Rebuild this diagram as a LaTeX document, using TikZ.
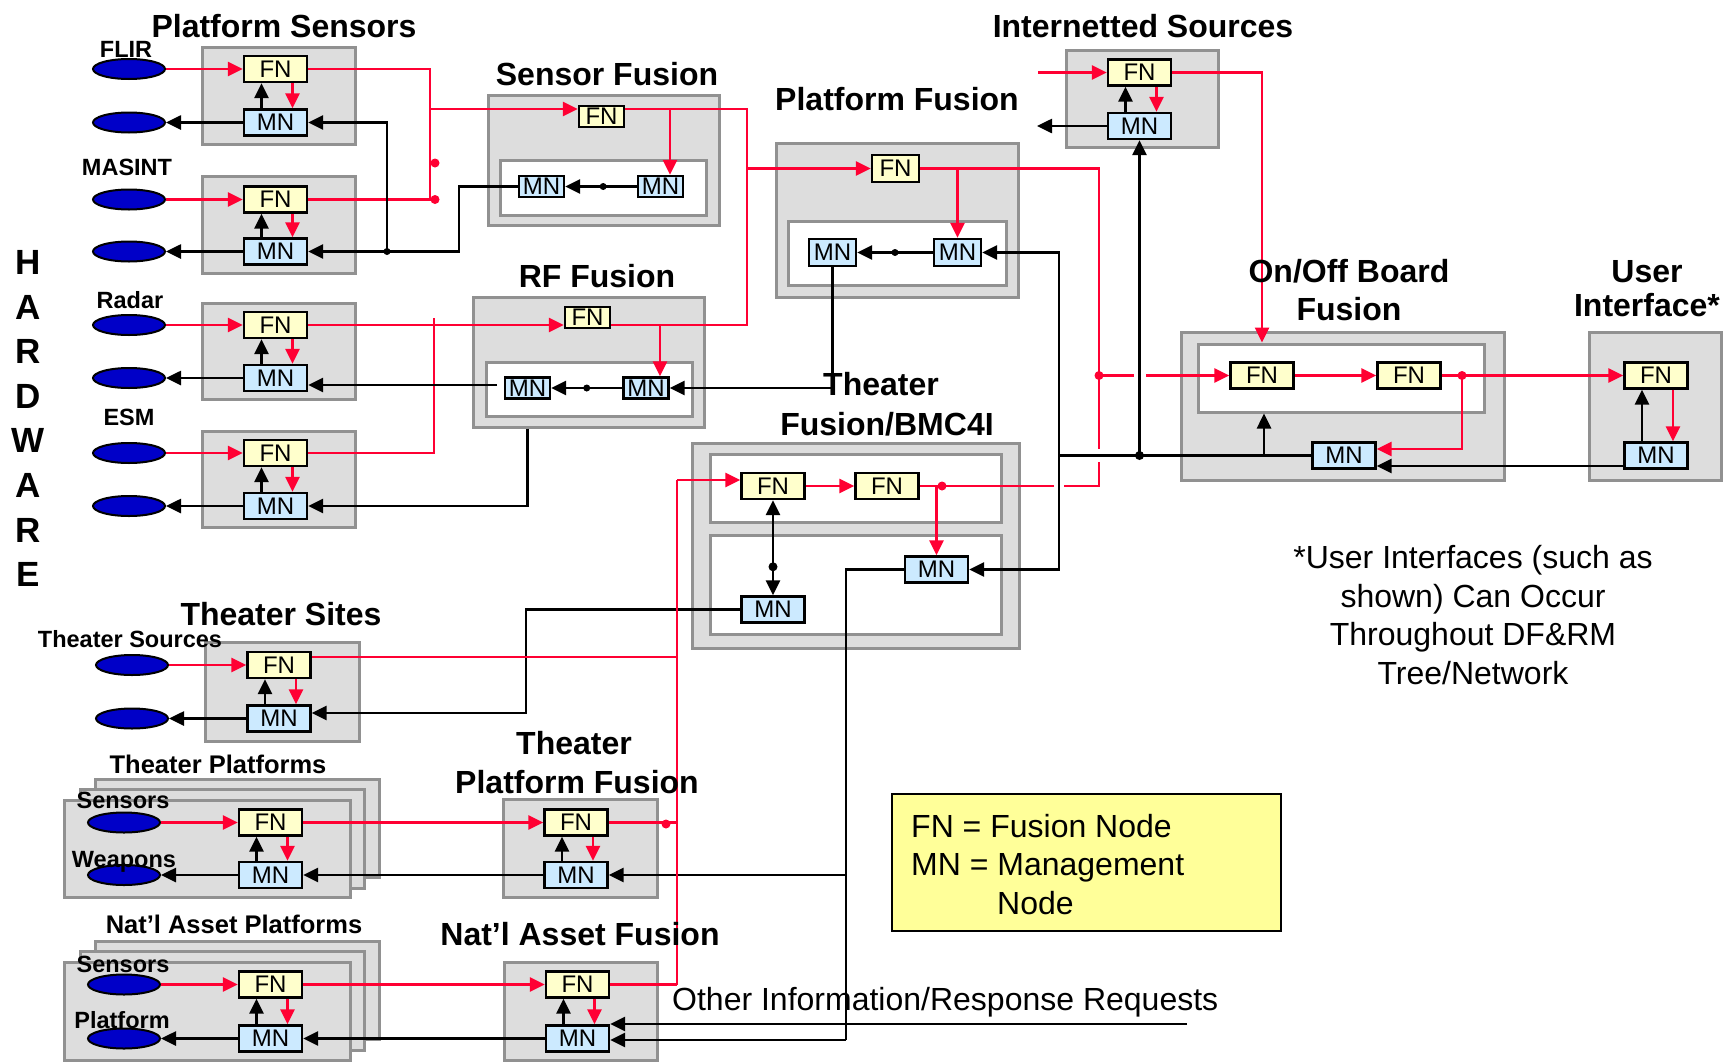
\documentclass[tikz,border=0pt]{standalone}
\usepackage{fontspec}
\setmainfont{Liberation Sans}
\usetikzlibrary{arrows.meta,shapes.geometric,calc}

\definecolor{myred}{RGB}{255,0,51}
\definecolor{grayfill}{RGB}{221,221,221}
\definecolor{grayline}{RGB}{145,145,145}
\definecolor{fnfill}{RGB}{255,255,204}
\definecolor{mnfill}{RGB}{204,234,255}
\definecolor{srcblue}{RGB}{0,0,200}
\definecolor{legfill}{RGB}{255,255,153}

\newcommand\dgnode{\fontsize{24}{24}\selectfont}
\newcommand\dgtitle{\fontsize{32}{38}\selectfont\bfseries}
\newcommand\dglabel{\fontsize{23.5}{28}\selectfont\bfseries}
\newcommand\dgsub{\fontsize{25.5}{30}\selectfont\bfseries}
\newcommand\dgtext{\fontsize{32}{38}\selectfont}
\newcommand\dghw{\fontsize{35}{40}\selectfont\bfseries}

% grey group box given by its corners
\newcommand\dgbox[5]{\node[grp, minimum width={#4-#2}, minimum height={#5-#3}] (#1) at ({(#2+#4)/2},{(#3+#5)/2}) {};}
% white inner box given by its corners
\newcommand\dgibox[5]{\node[inr, minimum width={#4-#2}, minimum height={#5-#3}] (#1) at ({(#2+#4)/2},{(#3+#5)/2}) {};}
% fusion node above management node, with their two internal links
\newcommand\dgunit[4]{%
  \node[fn] (#1-f) at (#2,#3) {FN};
  \node[mn] (#1-m) at (#2,#4) {MN};
  \draw[ba] ($(#1-m.north)+(-14,0)$) -- ($(#1-f.south)+(-14,0)$);
  \draw[ra] ($(#1-f.south)+(17,0)$) -- ($(#1-m.north)+(17,0)$);
}

\begin{document}
\begin{tikzpicture}[x=1pt,y=-1pt,
  grp/.style={rectangle, draw=grayline, fill=grayfill, line width=3pt, inner sep=0pt},
  inr/.style={rectangle, draw=grayline, fill=white, line width=3pt, inner sep=0pt},
  fn/.style={rectangle, draw=black, fill=fnfill, line width=2.4pt, inner sep=0pt, minimum width=63pt, minimum height=26pt, font=\dgnode},
  mn/.style={fn, fill=mnfill},
  fns/.style={fn, minimum width=45pt, minimum height=21pt},
  mns/.style={mn, minimum width=45pt, minimum height=21pt},
  fnm/.style={fn, minimum width=47pt, minimum height=27pt},
  mnm/.style={mn, minimum width=47pt, minimum height=27pt},
  src/.style={ellipse, draw=black, fill=srcblue, line width=2pt, minimum width=72pt, minimum height=20pt, inner sep=0pt},
  rl/.style={draw=myred, line width=2.6pt},
  ra/.style={rl, -{Triangle[length=15pt,width=14pt]}},
  bl/.style={draw=black, line width=2.6pt},
  ba/.style={bl, -{Triangle[length=15pt,width=14pt]}},
  bab/.style={bl, {Triangle[length=15pt,width=14pt]}-{Triangle[length=15pt,width=14pt]}},
  ttl/.style={font=\dgtitle, anchor=base, inner sep=0pt},
  lbl/.style={font=\dglabel, anchor=base, inner sep=0pt},
  sub/.style={font=\dgsub, anchor=base, inner sep=0pt},
  txt/.style={font=\dgtext, anchor=base, inner sep=0pt},
  hw/.style={font=\dghw, anchor=base, inner sep=0pt},
  rdot/.style={fill=myred},
  bdot/.style={fill=black}
]
\useasboundingbox (0,0) rectangle (1724,1063);
\fill[white] (0,0) rectangle (1724,1063);

% ---------- group boxes ----------
\dgbox{psb1}{202}{47}{355}{144}
\dgbox{psb2}{202}{176}{355}{273}
\dgbox{psb3}{202}{303}{355}{399}
\dgbox{psb4}{202}{431}{355}{527}
\dgbox{sfb}{488}{95}{719}{225}
\dgbox{rfb}{473}{297}{704}{427}
\dgbox{pfb}{776}{143}{1018}{297}
\dgbox{isb}{1066}{50}{1218}{147}
\dgbox{thb}{692}{443}{1019}{648}
\dgbox{onb}{1181}{332}{1504}{480}
\dgbox{uib}{1589}{332}{1721}{480}
\dgbox{tsb}{205}{642}{359}{741}
\dgbox{tpb3}{95}{779}{379}{877}
\dgbox{tpb2}{80}{789}{364}{888}
\dgbox{tpb1}{64}{800}{350}{897}
\dgbox{npb3}{95}{941}{379}{1039}
\dgbox{npb2}{80}{951}{364}{1050}
\dgbox{npb1}{64}{962}{350}{1060}
\dgbox{tpfb}{503}{799}{657}{897}
\dgbox{nafb}{504}{962}{657}{1060}

% ---------- inner boxes ----------
\dgibox{sfi}{500}{160}{706}{215}
\dgibox{rfi}{486}{362}{692}{416}
\dgibox{pfi}{788}{221}{1006}{285}
\dgibox{tht}{710}{454}{1001}{522}
\dgibox{thl}{710}{535}{1001}{634}
\dgibox{oni}{1198}{344}{1484}{412}

% ---------- FN / MN units ----------
\dgunit{ps1}{275.5}{69}{122.5}
\dgunit{ps2}{275.5}{199.5}{251.5}
\dgunit{ps3}{275.5}{325}{378}
\dgunit{ps4}{275.5}{453}{506}
\dgunit{is}{1139.5}{72.5}{126}
\dgunit{ui}{1656}{375.5}{455.5}
\dgunit{ts}{279}{665}{718.5}
\dgunit{tp}{270.5}{822.5}{875}
\dgunit{np}{270.5}{984.5}{1038.5}
\dgunit{tpf}{576}{822.5}{875}
\dgunit{naf}{577.5}{984.5}{1038.5}

\node[fns] (sf-f)  at (601.5,116.5) {FN};
\node[mns] (sf-ml) at (541.5,186.5) {MN};
\node[mns] (sf-mr) at (660.5,186.5) {MN};
\node[fns] (rf-f)  at (587.5,317.5) {FN};
\node[mns] (rf-ml) at (527.5,388) {MN};
\node[mns] (rf-mr) at (646,388) {MN};
\node[fnm] (pf-f)  at (895.5,168.5) {FN};
\node[mnm] (pf-ml) at (832.5,252.5) {MN};
\node[mnm] (pf-mr) at (957.5,252.5) {MN};
\node[fn] (th-f1) at (773,486) {FN};
\node[fn] (th-f2) at (887,486) {FN};
\node[mn] (th-m1) at (773,609.5) {MN};
\node[mn] (th-m2) at (936.5,569.5) {MN};
\node[fn] (on-f1) at (1262,375.5) {FN};
\node[fn] (on-f2) at (1409,375.5) {FN};
\node[mn] (on-m)  at (1344,455.5) {MN};

% ---------- sources ----------
\node[src] (e1) at (129,69) {};
\node[src] (e2) at (129,122.5) {};
\node[src] (e3) at (129,199.5) {};
\node[src] (e4) at (129,251.5) {};
\node[src] (e5) at (129,325) {};
\node[src] (e6) at (129,378) {};
\node[src] (e7) at (129,453) {};
\node[src] (e8) at (129,506) {};
\node[src] (t1) at (132,665) {};
\node[src] (t2) at (132,718.5) {};
\node[src] (p1) at (124,822.5) {};
\node[src] (p2) at (124,875) {};
\node[src] (n1) at (124,984.5) {};
\node[src] (n2) at (124,1038.5) {};

% source links
\foreach \s/\u in {e1/ps1,e3/ps2,e5/ps3,e7/ps4,t1/ts,p1/tp,n1/np}
  \draw[ra] (\s.east) -- (\u-f.west);
\foreach \s/\u in {e2/ps1,e4/ps2,e6/ps3,e8/ps4,t2/ts,p2/tp,n2/np}
  \draw[ba] (\u-m.west) -- (\s.east);

% ---------- junction points ----------
\coordinate (psj) at (430,199.5);
\coordinate (psb) at (430,109);
\coordinate (esmt) at (434,318);
\coordinate (rfbus) at (747,325);
\coordinate (k459) at (459,251.5);
\coordinate (k387) at (387,251.5);
\coordinate (rfl) at (497,385);
\coordinate (vb1) at (1099,449);
\coordinate (vb2) at (1099,462);
\coordinate (vb3) at (1064,486);
\coordinate (vb4) at (1054,486);
\coordinate (rd) at (1099,375.5);
\coordinate (rdg1) at (1134,375.5);
\coordinate (rdg2) at (1146,375.5);
\coordinate (J1) at (1059,455.5);
\coordinate (J2) at (1139.5,455.5);
\coordinate (J3) at (1264,455.5);
\coordinate (D) at (1462,375.5);
\coordinate (isin) at (1038,72.5);
\coordinate (isout) at (1037,126);
\coordinate (K2) at (846,1040);
\coordinate (oi) at (1187,1024);
\coordinate (L) at (526,713);
\coordinate (R) at (677,480);
\coordinate (R1) at (677,657);
\coordinate (R3) at (677,984.5);

% ---------- platform sensors to sensor / RF fusion ----------
\draw[rl] (ps1-f.east) -| (psj) -- (ps2-f.east);
\draw[ra] (psb) -- (psb -| sf-f.west);
\fill[rdot] (435,163) circle (4.5pt);
\fill[rdot] (435,199.5) circle (4.5pt);
\draw[ba] (sf-ml.west) -| (k459) -- (ps2-m.east);
\draw[ba] (k387) |- (ps1-m.east);
\fill[bdot] (k387) circle (3.5pt);

\draw[ra] (ps3-f.east) -- (ps3-f.east -| rf-f.west);
\draw[rl] (ps4-f.east) -| (esmt);
\draw[ba] (rfl) -- (rfl -| ps3-m.east);
\draw[ba] (rfb.south -| rf-ml) |- (ps4-m.east);

% ---------- sensor fusion ----------
\draw[rl] (sf-f.east |- psb) -| (rfbus) -- (rfbus -| rf-f.east);
\draw[ra] ($(sf-mr.north |- psb)+(9.5,0)$) -- ($(sf-mr.north)+(9.5,0)$);
\draw[ba] (sf-mr.west) -- (sf-ml.east);
\fill[bdot] ($(sf-ml.east)!0.53!(sf-mr.west)$) circle (3.5pt);

% ---------- RF fusion ----------
\draw[ra] ($(rf-mr.north |- rfbus)+(14,0)$) -- ($(rf-mr.north)+(14,0)$);
\draw[ba] (rf-mr.west) -- (rf-ml.east);
\fill[bdot] ($(rf-ml.east)!0.5!(rf-mr.west)$) circle (3.5pt);

% ---------- platform fusion ----------
\draw[ra] (pf-f.west -| rfbus) -- (pf-f.west);
\draw[ra] (pf-f.east -| pf-mr.north) -- (pf-mr.north);
\draw[ba] (pf-mr.west) -- (pf-ml.east);
\fill[bdot] ($(pf-ml.east)!0.5!(pf-mr.west)$) circle (3.5pt);
\draw[ba] (pf-ml.south) |- (rf-mr.east);

% red bus towards on/off board fusion
\draw[rl] (pf-f.east) -| (vb1);
\draw[rl] (vb2) |- (vb3);
\draw[rl] (vb4) -- (th-f2.east);
\draw[rl] (rd) -- (rdg1);
\draw[ra] (rdg2) -- (on-f1.west);
\fill[rdot] (rd) circle (4.5pt);

% ---------- internetted sources ----------
\draw[ra] (isin) -- (is-f.west);
\draw[ba] (is-m.west) -- (isout);
\draw[ra] (is-f.east) -| (on-f1 |- oni.north);

% ---------- management bus from on/off board fusion ----------
\draw[bl] (on-m.west) -- (J1);
\draw[ba] (J1) |- (pf-mr.east);
\draw[ba] (J1) |- (th-m2.east);
\draw[ba] (J2) -- (is-m.south);
\fill[bdot] (J2) circle (4.5pt);
\draw[ba] (J3) -- (J3 |- oni.south);

% ---------- on/off board fusion and user interface ----------
\draw[ra] (on-f1.east) -- (on-f2.west);
\draw[ra] (on-f2.east) -- (ui-f.west);
\fill[rdot] (D) circle (4.5pt);
\draw[ra] (D) |- ($(on-m.east)+(0,-6.5)$);
\draw[ba] ($(ui-m.west)+(0,10.5)$) -- ($(on-m.east)+(0,10.5)$);

% ---------- theater fusion / BMC4I ----------
\draw[ra] (th-f1.east) -- (th-f2.west);
\draw[ra] (th-f2.east -| th-m2.north) -- (th-m2.north);
\fill[rdot] (th-f2.east -| 942,0) circle (4.5pt);
\draw[bab] (th-f1.south) -- (th-m1.north);
\fill[bdot] ($(th-f1.south)!0.7!(th-m1.north)$) circle (4.5pt);
\draw[ba] (th-m1.west) -| (L) -- (L -| ts-m.east);
\draw[bl] (th-m2.west) -| (K2);
\draw[ba] (tpf-m.east -| K2) -- (tpf-m.east);
\draw[ba] (K2) -- (K2 -| naf-m.east);
\draw[ba] (oi) -- (oi -| naf-m.east);

% red feed into theater fusion
\draw[rl] (R) -- (R3);
\draw[ra] (R) -- (R -| th-f1.west);
\draw[rl] (R1 -| ts-f.east) -- (R1);
\draw[rl] (tpf-f.east) -- (tpf-f.east -| R);
\draw[rl] (naf-f.east) -- (R3);
\fill[rdot] (666,824) circle (4.5pt);

% ---------- theater / national asset platforms ----------
\draw[ra] (tp-f.east) -- (tpf-f.west);
\draw[ba] (tpf-m.west) -- (tp-m.east);
\draw[ra] (np-f.east) -- (naf-f.west);
\draw[ba] (naf-m.west) -- (np-m.east);

% ---------- titles ----------
\node[ttl] at (284,37) {Platform Sensors};
\node[ttl] at (607,85) {Sensor Fusion};
\node[ttl] at (897,110) {Platform Fusion};
\node[ttl] at (1143,37) {Internetted Sources};
\node[ttl] at (597,287) {RF Fusion};
\node[ttl] at (881,395) {Theater};
\node[ttl] at (887,435) {Fusion/BMC4I};
\node[ttl] at (1349,282) {On/Off Board};
\node[ttl] at (1349,320) {Fusion};
\node[ttl] at (1647,282) {User};
\node[ttl] at (1647,316) {Interface*};
\node[ttl] at (281,625) {Theater Sites};
\node[ttl] at (574,754) {Theater};
\node[ttl] at (577,793) {Platform Fusion};
\node[ttl] at (580,945) {Nat’l Asset Fusion};

\node[sub] at (218,773) {Theater Platforms};
\node[sub] at (234,933) {Nat’l Asset Platforms};

\node[lbl] at (126,57) {FLIR};
\node[lbl] at (127,175) {MASINT};
\node[lbl] at (130,308) {Radar};
\node[lbl] at (129,425) {ESM};
\node[lbl] at (130,647) {Theater Sources};
\node[lbl] at (123,808) {Sensors};
\node[lbl] at (124,867) {Weapons};
\node[lbl] at (123,972) {Sensors};
\node[lbl] at (122,1028) {Platform};

\foreach \l [count=\i from 0] in {H,A,R,D,W,A,R,E}
  \node[hw] at (28,{274.5+44.6*\i}) {\l};

% ---------- notes ----------
\node[txt] at (1473,568) {*User Interfaces (such as};
\node[txt] at (1473,607) {shown) Can Occur};
\node[txt] at (1473,645) {Throughout DF\&RM};
\node[txt] at (1473,684) {Tree/Network};

\node[txt, anchor=base west] at (672,1010) {Other Information/Response Requests};

\draw[draw=black, fill=legfill, line width=2.4pt] (892,794) rectangle (1281,931);
\node[txt, anchor=base west] at (911,837) {FN = Fusion Node};
\node[txt, anchor=base west] at (911,875) {MN = Management};
\node[txt, anchor=base west] at (997,914) {Node};

\end{tikzpicture}
\end{document}
